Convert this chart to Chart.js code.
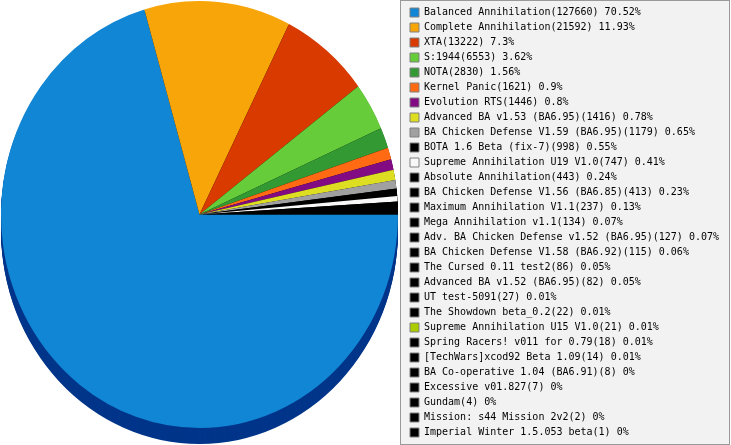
<!DOCTYPE html>
<html>
<head>
<meta charset="utf-8">
<script src="https://cdn.jsdelivr.net/npm/chart.js@4/dist/chart.umd.min.js"></script>
<style>
  body { margin: 0; background: #fff; }
  #wrap { width: 731px; height: 445px; }
</style>
</head>
<body>
<div id="wrap"><canvas id="modChart" width="731" height="445"></canvas></div>
<script>
const mods = [
  'Balanced Annihilation', 'Complete Annihilation', 'XTA', 'S:1944', 'NOTA',
  'Kernel Panic', 'Evolution RTS', 'Advanced BA v1.53 (BA6.95)',
  'BA Chicken Defense V1.59 (BA6.95)', 'BOTA 1.6 Beta (fix-7)',
  'Supreme Annihilation U19 V1.0', 'Absolute Annihilation',
  'BA Chicken Defense V1.56 (BA6.85)', 'Maximum Annihilation V1.1',
  'Mega Annihilation v1.1', 'Adv. BA Chicken Defense v1.52 (BA6.95)',
  'BA Chicken Defense V1.58 (BA6.92)', 'The Cursed 0.11 test2',
  'Advanced BA v1.52 (BA6.95)', 'UT test-5091', 'The Showdown beta_0.2',
  'Supreme Annihilation U15 V1.0', 'Spring Racers! v011 for 0.79',
  '[TechWars]xcod92 Beta 1.09', 'BA Co-operative 1.04 (BA6.91)',
  'Excessive v01.827', 'Gundam', 'Mission: s44 Mission 2v2',
  'Imperial Winter 1.5.053 beta'
];
const games = [
  127660, 21592, 13222, 6553, 2830, 1621, 1446, 1416, 1179, 998,
  747, 443, 413, 237, 134, 127, 115, 86, 82, 27,
  22, 21, 18, 14, 8, 7, 4, 2, 1
];
const sliceColors = [
  '#1186d4', '#f8a50a', '#d93a00', '#66cc3a', '#339933',
  '#ff6a13', '#820a82', '#dddd22', '#a0a0a0', '#000000',
  '#f8f8f8', '#000000', '#000000', '#000000', '#000000',
  '#000000', '#000000', '#000000', '#000000', '#000000',
  '#000000', '#aacc00', '#000000', '#000000', '#000000',
  '#000000', '#000000', '#000000', '#000000'
];
const sideColors = sliceColors.map((c, i) => i === 0 ? '#00358a' : '#000000');

const total = games.reduce((a, b) => a + b, 0);
const pct = v => Math.round(v / total * 10000) / 100;

// where the (slightly oval) pie should sit
const PIE = { cx: 199.5, cy: 214.5, rx: 198.5, ry: 213.5, depth: 16 };

function pieTransform(ctx, arc) {
  const R = arc.outerRadius;
  ctx.translate(PIE.cx, PIE.cy);
  ctx.scale(PIE.rx / R, PIE.ry / R);
  ctx.translate(-arc.x, -arc.y);
}

const oval3d = {
  id: 'oval3d',
  beforeDatasetsDraw(chart) {
    const ctx = chart.ctx;
    const arcs = chart.getDatasetMeta(0).data;
    if (!arcs.length) return;
    const R = arcs[0].outerRadius;
    ctx.save();
    pieTransform(ctx, arcs[0]);
    // side wall
    for (let d = PIE.depth; d > 0; d--) {
      const dy = d * R / PIE.ry;
      arcs.forEach((a, i) => {
        ctx.beginPath();
        ctx.moveTo(a.x, a.y + dy);
        ctx.arc(a.x, a.y + dy, a.outerRadius, a.startAngle, a.endAngle);
        ctx.closePath();
        ctx.fillStyle = sideColors[i];
        ctx.fill();
      });
    }
  },
  afterDatasetsDraw(chart) {
    if (chart.getDatasetMeta(0).data.length) chart.ctx.restore();
  }
};

const legendBox = {
  id: 'legendBox',
  beforeDraw(chart) {
    const ctx = chart.ctx;
    ctx.save();
    ctx.fillStyle = '#f2f2f2';
    ctx.fillRect(400, 0, 330, 445);
    ctx.strokeStyle = '#999999';
    ctx.lineWidth = 1;
    ctx.strokeRect(400.5, 0.5, 329, 444);
    ctx.restore();
  }
};

const ctx = document.getElementById('modChart').getContext('2d');
const modChart = new Chart(ctx, {
  type: 'pie',
  data: {
    labels: mods,
    datasets: [{
      data: games,
      backgroundColor: sliceColors,
      borderWidth: 0,
      clip: false
    }]
  },
  options: {
    responsive: false,
    animation: false,
    devicePixelRatio: 1,
    rotation: 90,
    layout: { padding: { right: 2 } },
    plugins: {
      tooltip: { enabled: false },
      legend: {
        position: 'right',
        align: 'center',
        labels: {
          boxWidth: 9,
          boxHeight: 9,
          padding: 5,
          color: '#000000',
          font: { family: 'DejaVu Sans Mono', size: 10 },
          generateLabels(chart) {
            return mods.map((m, i) => ({
              text: `${m}(${games[i]}) ${pct(games[i])}%`,
              fillStyle: sliceColors[i],
              strokeStyle: '#808080',
              lineWidth: 1,
              hidden: false,
              index: i
            }));
          }
        }
      }
    }
  },
  plugins: [legendBox, oval3d]
});
</script>
</body>
</html>
